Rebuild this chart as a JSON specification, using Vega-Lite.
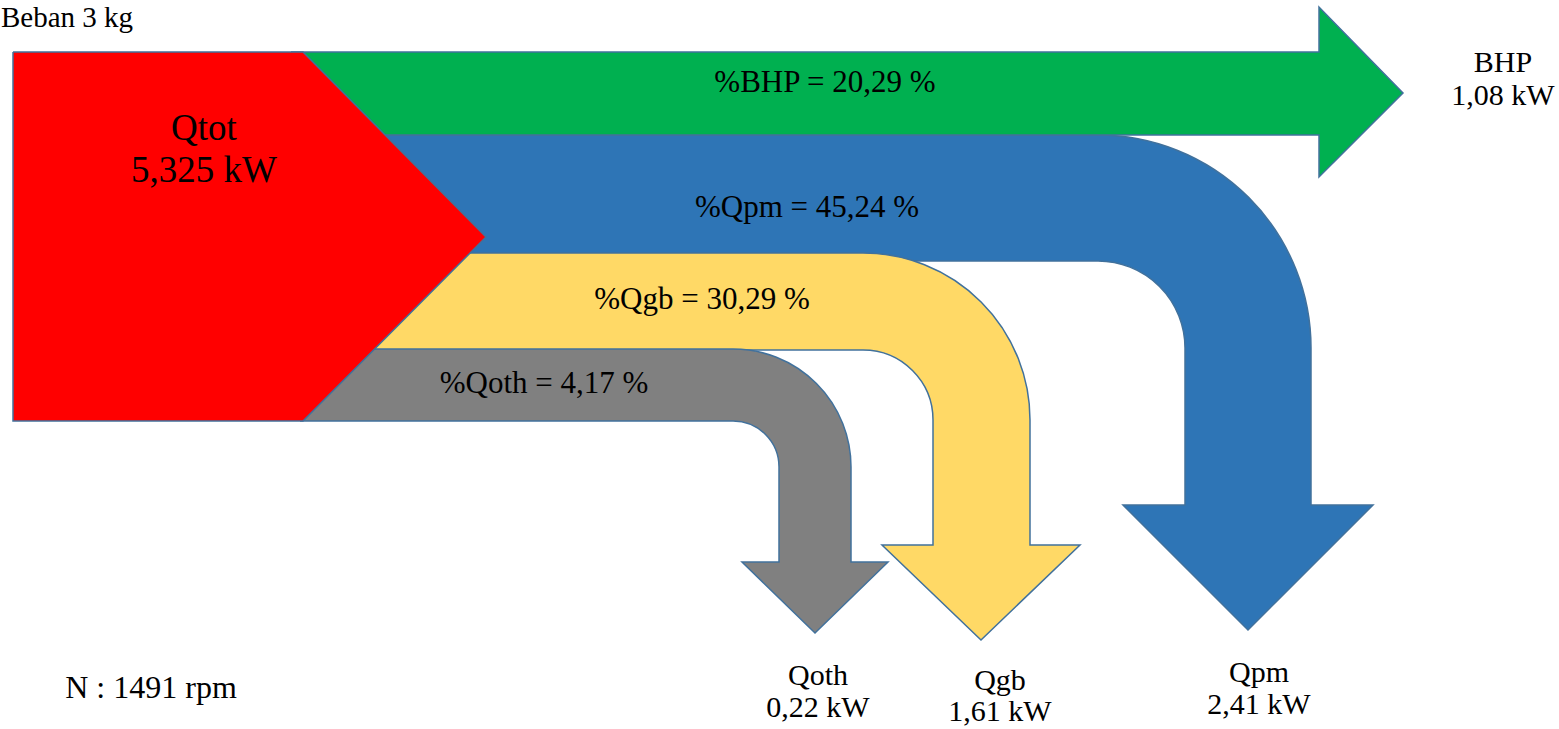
{
  "$schema": "https://vega.github.io/schema/vega-lite/v6.json",
  "width": 1559,
  "height": 729,
  "padding": 0,
  "autosize": {"type": "none"},
  "background": "white",
  "config": {"view": {"stroke": null}},
  "datasets": {
    "polys": [
      {"s": "blue", "g": "b1", "o": 1, "x": 380, "y": 135},
      {"s": "blue", "g": "b1", "o": 2, "x": 1098, "y": 135},
      {"s": "blue", "g": "b1", "o": 3, "x": 1098, "y": 261},
      {"s": "blue", "g": "b1", "o": 4, "x": 380, "y": 261},
      {"s": "blue", "g": "b2", "o": 1, "x": 1185, "y": 348},
      {"s": "blue", "g": "b2", "o": 2, "x": 1185, "y": 505},
      {"s": "blue", "g": "b2", "o": 3, "x": 1123, "y": 505},
      {"s": "blue", "g": "b2", "o": 4, "x": 1248, "y": 630},
      {"s": "blue", "g": "b2", "o": 5, "x": 1373, "y": 505},
      {"s": "blue", "g": "b2", "o": 6, "x": 1311, "y": 505},
      {"s": "blue", "g": "b2", "o": 7, "x": 1311, "y": 348},
      {"s": "yellow", "g": "y1", "o": 1, "x": 360, "y": 253},
      {"s": "yellow", "g": "y1", "o": 2, "x": 863, "y": 253},
      {"s": "yellow", "g": "y1", "o": 3, "x": 863, "y": 350},
      {"s": "yellow", "g": "y1", "o": 4, "x": 360, "y": 350},
      {"s": "yellow", "g": "y2", "o": 1, "x": 933, "y": 420},
      {"s": "yellow", "g": "y2", "o": 2, "x": 933, "y": 545},
      {"s": "yellow", "g": "y2", "o": 3, "x": 882, "y": 545},
      {"s": "yellow", "g": "y2", "o": 4, "x": 981, "y": 640},
      {"s": "yellow", "g": "y2", "o": 5, "x": 1080, "y": 545},
      {"s": "yellow", "g": "y2", "o": 6, "x": 1030, "y": 545},
      {"s": "yellow", "g": "y2", "o": 7, "x": 1030, "y": 420},
      {"s": "gray", "g": "g1", "o": 1, "x": 290, "y": 349},
      {"s": "gray", "g": "g1", "o": 2, "x": 733, "y": 349},
      {"s": "gray", "g": "g1", "o": 3, "x": 733, "y": 421},
      {"s": "gray", "g": "g1", "o": 4, "x": 290, "y": 421},
      {"s": "gray", "g": "g2", "o": 1, "x": 779, "y": 467},
      {"s": "gray", "g": "g2", "o": 2, "x": 779, "y": 562},
      {"s": "gray", "g": "g2", "o": 3, "x": 742, "y": 562},
      {"s": "gray", "g": "g2", "o": 4, "x": 815, "y": 633},
      {"s": "gray", "g": "g2", "o": 5, "x": 888, "y": 562},
      {"s": "gray", "g": "g2", "o": 6, "x": 851, "y": 562},
      {"s": "gray", "g": "g2", "o": 7, "x": 851, "y": 467},
      {"s": "green", "g": "gr", "o": 1, "x": 291, "y": 52},
      {"s": "green", "g": "gr", "o": 2, "x": 1319, "y": 52},
      {"s": "green", "g": "gr", "o": 3, "x": 1319, "y": 7},
      {"s": "green", "g": "gr", "o": 4, "x": 1403, "y": 93},
      {"s": "green", "g": "gr", "o": 5, "x": 1319, "y": 177},
      {"s": "green", "g": "gr", "o": 6, "x": 1319, "y": 135},
      {"s": "green", "g": "gr", "o": 7, "x": 291, "y": 135},
      {"s": "green", "g": "gr", "o": 8, "x": 291, "y": 52},
      {"s": "red", "g": "r", "o": 1, "x": 13, "y": 52},
      {"s": "red", "g": "r", "o": 2, "x": 303, "y": 52},
      {"s": "red", "g": "r", "o": 3, "x": 486, "y": 237},
      {"s": "red", "g": "r", "o": 4, "x": 303, "y": 421},
      {"s": "red", "g": "r", "o": 5, "x": 13, "y": 421},
      {"s": "red", "g": "r", "o": 6, "x": 13, "y": 52}
    ],
    "lines": [
      {"s": "blue", "g": "bt", "o": 1, "x": 380, "y": 135},
      {"s": "blue", "g": "bt", "o": 2, "x": 1098, "y": 135},
      {"s": "blue", "g": "bb", "o": 1, "x": 470, "y": 261},
      {"s": "blue", "g": "bb", "o": 2, "x": 1098, "y": 261},
      {"s": "blue", "g": "bh", "o": 1, "x": 1185, "y": 348},
      {"s": "blue", "g": "bh", "o": 2, "x": 1185, "y": 505},
      {"s": "blue", "g": "bh", "o": 3, "x": 1123, "y": 505},
      {"s": "blue", "g": "bh", "o": 4, "x": 1248, "y": 630},
      {"s": "blue", "g": "bh", "o": 5, "x": 1373, "y": 505},
      {"s": "blue", "g": "bh", "o": 6, "x": 1311, "y": 505},
      {"s": "blue", "g": "bh", "o": 7, "x": 1311, "y": 348},
      {"s": "yellow", "g": "yt", "o": 1, "x": 460, "y": 253},
      {"s": "yellow", "g": "yt", "o": 2, "x": 863, "y": 253},
      {"s": "yellow", "g": "yb", "o": 1, "x": 370, "y": 350},
      {"s": "yellow", "g": "yb", "o": 2, "x": 863, "y": 350},
      {"s": "yellow", "g": "yh", "o": 1, "x": 933, "y": 420},
      {"s": "yellow", "g": "yh", "o": 2, "x": 933, "y": 545},
      {"s": "yellow", "g": "yh", "o": 3, "x": 882, "y": 545},
      {"s": "yellow", "g": "yh", "o": 4, "x": 981, "y": 640},
      {"s": "yellow", "g": "yh", "o": 5, "x": 1080, "y": 545},
      {"s": "yellow", "g": "yh", "o": 6, "x": 1030, "y": 545},
      {"s": "yellow", "g": "yh", "o": 7, "x": 1030, "y": 420},
      {"s": "gray", "g": "gt", "o": 1, "x": 370, "y": 349},
      {"s": "gray", "g": "gt", "o": 2, "x": 733, "y": 349},
      {"s": "gray", "g": "gb", "o": 1, "x": 300, "y": 421},
      {"s": "gray", "g": "gb", "o": 2, "x": 733, "y": 421},
      {"s": "gray", "g": "gh", "o": 1, "x": 779, "y": 467},
      {"s": "gray", "g": "gh", "o": 2, "x": 779, "y": 562},
      {"s": "gray", "g": "gh", "o": 3, "x": 742, "y": 562},
      {"s": "gray", "g": "gh", "o": 4, "x": 815, "y": 633},
      {"s": "gray", "g": "gh", "o": 5, "x": 888, "y": 562},
      {"s": "gray", "g": "gh", "o": 6, "x": 851, "y": 562},
      {"s": "gray", "g": "gh", "o": 7, "x": 851, "y": 467}
    ],
    "arcs": [
      {"s": "blue", "cx": 1098, "cy": 348, "ri": 87, "ro": 213},
      {"s": "yellow", "cx": 863, "cy": 420, "ri": 70, "ro": 167},
      {"s": "gray", "cx": 733, "cy": 467, "ri": 46, "ro": 118}
    ],
    "arcEdges": [
      {"s": "blue", "cx": 1098, "cy": 348, "r": 87},
      {"s": "blue", "cx": 1098, "cy": 348, "r": 213},
      {"s": "yellow", "cx": 863, "cy": 420, "r": 70},
      {"s": "yellow", "cx": 863, "cy": 420, "r": 167},
      {"s": "gray", "cx": 733, "cy": 467, "r": 46},
      {"s": "gray", "cx": 733, "cy": 467, "r": 118}
    ],
    "pct": [
      {"t": "%BHP = 20,29 %", "x": 825, "y": 83},
      {"t": "%Qpm = 45,24 %", "x": 807, "y": 208},
      {"t": "%Qgb = 30,29 %", "x": 702, "y": 300},
      {"t": "%Qoth = 4,17 %", "x": 544, "y": 384}
    ],
    "labels": [
      {"t": "BHP", "x": 1503, "y": 63},
      {"t": "1,08 kW", "x": 1503, "y": 96},
      {"t": "Qoth", "x": 818, "y": 676},
      {"t": "0,22 kW", "x": 818, "y": 708},
      {"t": "Qgb", "x": 1000, "y": 681},
      {"t": "1,61 kW", "x": 1000, "y": 712},
      {"t": "Qpm", "x": 1259, "y": 673},
      {"t": "2,41 kW", "x": 1259, "y": 705}
    ],
    "rpm": [
      {"t": "N : 1491 rpm", "x": 151, "y": 688}
    ],
    "big": [
      {"t": "Qtot", "x": 204, "y": 129},
      {"t": "5,325 kW", "x": 204, "y": 171}
    ],
    "corner": [
      {"t": "Beban 3 kg", "x": 1, "y": 27}
    ]
  },
  "encoding": {
    "x": {"type": "quantitative", "scale": {"domain": [0, 1559], "nice": false, "zero": false}, "axis": null},
    "y": {"type": "quantitative", "scale": {"domain": [0, 729], "nice": false, "zero": false, "reverse": true}, "axis": null}
  },
  "layer": [
    {
      "data": {"name": "polys"}, "transform": [{"filter": "datum.s == 'blue'"}],
      "mark": {"type": "line", "fill": "#2E75B6", "stroke": null, "strokeWidth": 0},
      "encoding": {"x": {"field": "x", "type": "quantitative"}, "y": {"field": "y", "type": "quantitative"}, "detail": {"field": "g"}, "order": {"field": "o", "type": "quantitative"}}
    },
    {
      "data": {"name": "arcs"}, "transform": [{"filter": "datum.s == 'blue'"}],
      "mark": {"type": "arc", "theta": 0, "theta2": 1.5708, "color": "#2E75B6", "strokeWidth": 0},
      "encoding": {"x": {"field": "cx", "type": "quantitative"}, "y": {"field": "cy", "type": "quantitative"}, "radius": {"field": "ro", "type": "quantitative", "scale": null}, "radius2": {"field": "ri"}}
    },
    {
      "data": {"name": "lines"}, "transform": [{"filter": "datum.s == 'blue'"}],
      "mark": {"type": "line", "stroke": "#41719C", "strokeWidth": 1.5},
      "encoding": {"x": {"field": "x", "type": "quantitative"}, "y": {"field": "y", "type": "quantitative"}, "detail": {"field": "g"}, "order": {"field": "o", "type": "quantitative"}}
    },
    {
      "data": {"name": "arcEdges"}, "transform": [{"filter": "datum.s == 'blue'"}],
      "mark": {"type": "arc", "theta": 0, "theta2": 1.5708, "fillOpacity": 0, "stroke": "#41719C", "strokeWidth": 1.5},
      "encoding": {"x": {"field": "cx", "type": "quantitative"}, "y": {"field": "cy", "type": "quantitative"}, "radius": {"field": "r", "type": "quantitative", "scale": null}, "radius2": {"field": "r"}}
    },
    {
      "data": {"name": "polys"}, "transform": [{"filter": "datum.s == 'yellow'"}],
      "mark": {"type": "line", "fill": "#FFD966", "stroke": null, "strokeWidth": 0},
      "encoding": {"x": {"field": "x", "type": "quantitative"}, "y": {"field": "y", "type": "quantitative"}, "detail": {"field": "g"}, "order": {"field": "o", "type": "quantitative"}}
    },
    {
      "data": {"name": "arcs"}, "transform": [{"filter": "datum.s == 'yellow'"}],
      "mark": {"type": "arc", "theta": 0, "theta2": 1.5708, "color": "#FFD966", "strokeWidth": 0},
      "encoding": {"x": {"field": "cx", "type": "quantitative"}, "y": {"field": "cy", "type": "quantitative"}, "radius": {"field": "ro", "type": "quantitative", "scale": null}, "radius2": {"field": "ri"}}
    },
    {
      "data": {"name": "lines"}, "transform": [{"filter": "datum.s == 'yellow'"}],
      "mark": {"type": "line", "stroke": "#41719C", "strokeWidth": 1.5},
      "encoding": {"x": {"field": "x", "type": "quantitative"}, "y": {"field": "y", "type": "quantitative"}, "detail": {"field": "g"}, "order": {"field": "o", "type": "quantitative"}}
    },
    {
      "data": {"name": "arcEdges"}, "transform": [{"filter": "datum.s == 'yellow'"}],
      "mark": {"type": "arc", "theta": 0, "theta2": 1.5708, "fillOpacity": 0, "stroke": "#41719C", "strokeWidth": 1.5},
      "encoding": {"x": {"field": "cx", "type": "quantitative"}, "y": {"field": "cy", "type": "quantitative"}, "radius": {"field": "r", "type": "quantitative", "scale": null}, "radius2": {"field": "r"}}
    },
    {
      "data": {"name": "polys"}, "transform": [{"filter": "datum.s == 'gray'"}],
      "mark": {"type": "line", "fill": "#808080", "stroke": null, "strokeWidth": 0},
      "encoding": {"x": {"field": "x", "type": "quantitative"}, "y": {"field": "y", "type": "quantitative"}, "detail": {"field": "g"}, "order": {"field": "o", "type": "quantitative"}}
    },
    {
      "data": {"name": "arcs"}, "transform": [{"filter": "datum.s == 'gray'"}],
      "mark": {"type": "arc", "theta": 0, "theta2": 1.5708, "color": "#808080", "strokeWidth": 0},
      "encoding": {"x": {"field": "cx", "type": "quantitative"}, "y": {"field": "cy", "type": "quantitative"}, "radius": {"field": "ro", "type": "quantitative", "scale": null}, "radius2": {"field": "ri"}}
    },
    {
      "data": {"name": "lines"}, "transform": [{"filter": "datum.s == 'gray'"}],
      "mark": {"type": "line", "stroke": "#41719C", "strokeWidth": 1.5},
      "encoding": {"x": {"field": "x", "type": "quantitative"}, "y": {"field": "y", "type": "quantitative"}, "detail": {"field": "g"}, "order": {"field": "o", "type": "quantitative"}}
    },
    {
      "data": {"name": "arcEdges"}, "transform": [{"filter": "datum.s == 'gray'"}],
      "mark": {"type": "arc", "theta": 0, "theta2": 1.5708, "fillOpacity": 0, "stroke": "#41719C", "strokeWidth": 1.5},
      "encoding": {"x": {"field": "cx", "type": "quantitative"}, "y": {"field": "cy", "type": "quantitative"}, "radius": {"field": "r", "type": "quantitative", "scale": null}, "radius2": {"field": "r"}}
    },
    {
      "data": {"name": "polys"}, "transform": [{"filter": "datum.s == 'green'"}],
      "mark": {"type": "line", "fill": "#00B050", "stroke": "#41719C", "strokeWidth": 1.5},
      "encoding": {"x": {"field": "x", "type": "quantitative"}, "y": {"field": "y", "type": "quantitative"}, "detail": {"field": "g"}, "order": {"field": "o", "type": "quantitative"}}
    },
    {
      "data": {"name": "polys"}, "transform": [{"filter": "datum.s == 'red'"}],
      "mark": {"type": "line", "fill": "#FF0000", "stroke": "#41719C", "strokeWidth": 1.5},
      "encoding": {"x": {"field": "x", "type": "quantitative"}, "y": {"field": "y", "type": "quantitative"}, "detail": {"field": "g"}, "order": {"field": "o", "type": "quantitative"}}
    },
    {
      "data": {"name": "pct"},
      "mark": {"type": "text", "font": "Liberation Serif", "fontSize": 31, "align": "center", "baseline": "middle", "color": "black"},
      "encoding": {"x": {"field": "x", "type": "quantitative"}, "y": {"field": "y", "type": "quantitative"}, "text": {"field": "t"}}
    },
    {
      "data": {"name": "labels"},
      "mark": {"type": "text", "font": "Liberation Serif", "fontSize": 30, "align": "center", "baseline": "middle", "color": "black"},
      "encoding": {"x": {"field": "x", "type": "quantitative"}, "y": {"field": "y", "type": "quantitative"}, "text": {"field": "t"}}
    },
    {
      "data": {"name": "rpm"},
      "mark": {"type": "text", "font": "Liberation Serif", "fontSize": 32, "align": "center", "baseline": "middle", "color": "black"},
      "encoding": {"x": {"field": "x", "type": "quantitative"}, "y": {"field": "y", "type": "quantitative"}, "text": {"field": "t"}}
    },
    {
      "data": {"name": "big"},
      "mark": {"type": "text", "font": "Liberation Serif", "fontSize": 37, "align": "center", "baseline": "middle", "color": "black"},
      "encoding": {"x": {"field": "x", "type": "quantitative"}, "y": {"field": "y", "type": "quantitative"}, "text": {"field": "t"}}
    },
    {
      "data": {"name": "corner"},
      "mark": {"type": "text", "font": "Liberation Serif", "fontSize": 29, "align": "left", "baseline": "alphabetic", "color": "black"},
      "encoding": {"x": {"field": "x", "type": "quantitative"}, "y": {"field": "y", "type": "quantitative"}, "text": {"field": "t"}}
    }
  ]
}
